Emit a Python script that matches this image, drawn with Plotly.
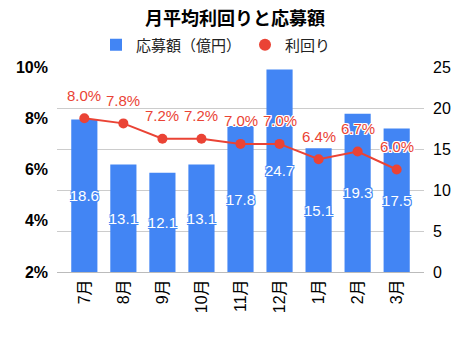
import plotly.graph_objects as go

months = ["7月", "8月", "9月", "10月", "11月", "12月", "1月", "2月", "3月"]
amount = [18.6, 13.1, 12.1, 13.1, 17.8, 24.7, 15.1, 19.3, 17.5]
yield_pct = [8.0, 7.8, 7.2, 7.2, 7.0, 7.0, 6.4, 6.7, 6.0]

BLUE = "#4285F4"
RED = "#EA4335"
FONT = "Arial, 'Noto Sans CJK JP', sans-serif"

red_halo = ("-1px -1px 0 #fff, 1px -1px 0 #fff, -1px 1px 0 #fff, 1px 1px 0 #fff, "
            "0 -1px 0 #fff, 0 1px 0 #fff, -1px 0 0 #fff, 1px 0 0 #fff")
blue_halo = ("-1px -1px 0 #4285F4, 1px -1px 0 #4285F4, -1px 1px 0 #4285F4, 1px 1px 0 #4285F4")

fig = go.Figure()

fig.add_trace(go.Bar(
    x=months, y=amount, name="応募額（億円）",
    marker=dict(color=BLUE, line=dict(width=0)),
    text=[f"{v:.1f}" for v in amount],
    textposition="inside", insidetextanchor="middle", constraintext="none",
    textangle=0,
    textfont=dict(color="white", size=15, family=FONT, shadow=blue_halo),
    yaxis="y", showlegend=True, cliponaxis=False,
))

fig.add_trace(go.Scatter(
    x=months, y=yield_pct, name="利回り", mode="lines+markers",
    line=dict(color=RED, width=2),
    marker=dict(color=RED, size=10),
    yaxis="y2", showlegend=False, cliponaxis=False,
))

for m, v in zip(months, yield_pct):
    fig.add_annotation(
        x=m, y=v, xref="x", yref="y2", text=f"{v:.1f}%", showarrow=False,
        yshift=23, font=dict(color=RED, size=15, family=FONT, shadow=red_halo),
    )

fig.add_trace(go.Scatter(
    x=[None], y=[None], name="利回り", mode="markers",
    marker=dict(color=RED, size=12, symbol="circle"),
    yaxis="y2", showlegend=True,
))

fig.update_layout(
    width=470, height=340,
    margin=dict(l=57, r=46, t=67, b=68),
    paper_bgcolor="white", plot_bgcolor="white",
    font=dict(family=FONT, color="#000"),
    title=dict(text="<b>月平均利回りと応募額</b>", x=0.5, xanchor="center",
               y=1 - 19 / 340, yanchor="middle",
               font=dict(size=18, color="#000", family=FONT)),
    legend=dict(orientation="h", x=(96 - 57) / 367, xanchor="left", y=1.107, yanchor="middle",
                font=dict(size=15, color="#222", family=FONT),
                entrywidth=104, entrywidthmode="pixels",
                itemsizing="constant", bgcolor="rgba(0,0,0,0)"),
    bargap=0.33,
    xaxis=dict(range=[-0.7, 8.7], tickangle=-90, showgrid=False,
               tickfont=dict(size=16, color="#000", family=FONT),
               showline=True, linecolor="#bbb", linewidth=1, ticks=""),
    yaxis=dict(side="right", range=[0, 25], dtick=5, showgrid=True,
               gridcolor="#ccc", gridwidth=1, zeroline=False,
               tickfont=dict(size=16, color="#000", family=FONT), ticks="",
               ticklabelstandoff=8),
    yaxis2=dict(side="left", overlaying="y", range=[2, 10], dtick=2,
                ticksuffix="%", showgrid=False, zeroline=False,
                tickfont=dict(size=16, color="#000", family=FONT, weight="bold"),
                ticks="", ticklabelstandoff=8),
)

fig.write_html("out.html")
